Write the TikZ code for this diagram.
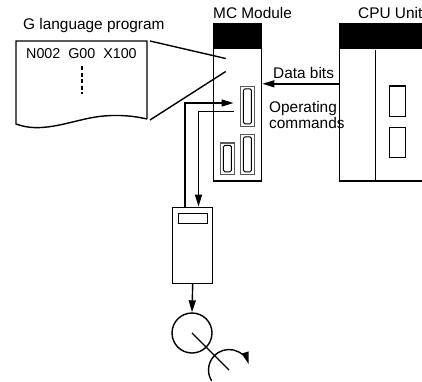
\documentclass[tikz,border=0pt]{standalone}
\usepackage{fontspec}
\setmainfont{Liberation Sans}
\usetikzlibrary{arrows.meta}
\tikzset{
  unitbox/.style={draw, line width=1.4pt, anchor=south west, inner sep=0pt},
  headbox/.style={fill=black, anchor=north, inner sep=0pt, minimum height=26pt},
  slotbox/.style={draw=black!65, line width=1.3pt, anchor=south west, inner sep=0pt},
  slotin/.style={draw, line width=1pt, rounded corners=1.5pt, inner sep=0pt},
  lampbox/.style={draw, line width=1.4pt, anchor=south west, inner sep=0pt},
  wire/.style={line width=1.4pt},
  tip/.style={-{Triangle[length=12pt,width=7pt]}},
  label/.style={font=\fontsize{15.4}{18}\selectfont, anchor=base west, inner sep=0pt}
}
\begin{document}
\begin{tikzpicture}[x=1pt, y=1pt]
  \useasboundingbox (0,0) rectangle (422,381);

  \node[label] (gtitle) at (23,351) {G language program};
  \node[label] (mctitle) at (213,362) {MC Module};
  \node[label] (cputitle) at (358,362) {CPU Unit};

  \coordinate (ptl) at (16,340);
  \coordinate (ptr) at (147,340);
  \coordinate (pbr) at (147,262);
  \coordinate (pbl) at (16,257);
  \draw[wire] (pbr) -- (ptr) -- (ptl) -- (pbl)
    .. controls (40,248) and (65,258) .. (90,263)
    .. controls (110,267) and (130,266) .. (pbr);
  \node[label, font=\fontsize{14.3}{18}\selectfont] (nline) at (26,322) {N002\ \ G00\ \ X100};
  \coordinate (dtop) at (81.5,315);
  \coordinate (dbot) at (81.5,287);
  \draw[line width=2pt, dash pattern=on 4pt off 2.5pt] (dtop) -- (dbot);

  \node[unitbox, minimum width=48pt, minimum height=157.5pt] (mc) at (213,199.5) {};
  \node[headbox, minimum width=48pt] (mchead) at (mc.north) {};

  \node[unitbox, minimum width=100pt, minimum height=157.5pt] (cpu) at (339,199.5) {};
  \node[headbox, minimum width=100pt] (cpuhead) at (cpu.north) {};
  \coordinate (divtop) at (375.7,331);
  \coordinate (divbot) at (375.7,199.5);
  \draw[wire] (divtop) -- (divbot);
  \node[lampbox, minimum width=15.5pt, minimum height=30.5pt] (lampa) at (389,264) {};
  \node[lampbox, minimum width=15.5pt, minimum height=30pt] (lampb) at (389,223) {};

  \coordinate (leadat) at (150,340);
  \coordinate (leadbt) at (150,261);
  \coordinate (leadae) at (225.7,322.5);
  \coordinate (leadbe) at (225.7,309.5);
  \draw[wire] (leadat) -- (leadae);
  \draw[wire] (leadbt) -- (leadbe);

  \node[slotbox, minimum width=13.5pt, minimum height=40pt] (slota) at (240,254) {};
  \node[slotbox, minimum width=13.5pt, minimum height=40pt] (slotb) at (240,206) {};
  \node[slotbox, minimum width=13.5pt, minimum height=31.5pt] (slotc) at (220,206) {};
  \node[slotin, minimum width=8pt, minimum height=35pt] at (slota.center) {};
  \node[slotin, minimum width=8pt, minimum height=35pt] at (slotb.center) {};
  \node[slotin, minimum width=8pt, minimum height=26.5pt] at (slotc.center) {};

  \draw[wire, tip] ([yshift=18.25pt]cpu.west) -- ([yshift=18.25pt]mc.east);
  \node[label] (datatext) at (273,303) {Data bits};
  \node[label] (optext) at (269,269) {Operating};
  \node[label] (comtext) at (269,253) {commands};

  \node[unitbox, minimum width=40pt, minimum height=76pt] (drive) at (172,97) {};
  \node[lampbox, minimum width=29pt, minimum height=10pt] (display) at (178,157) {};

  \coordinate (cmda) at (185,278);
  \coordinate (cmdb) at (198.5,269.5);
  \coordinate (porta) at (233.5,278);
  \coordinate (portb) at (233.5,269.5);
  \draw[wire, tip] (drive.north -| cmda) -- (cmda) -- (porta);
  \draw[wire, tip] (portb) -- (cmdb) -- (drive.north -| cmdb);

  \node[draw, circle, line width=1.4pt, minimum size=40pt, inner sep=0pt] (motor) at (192,48) {};
  \draw[wire, tip] (drive.south) -- (motor.north);

  \coordinate (shaft) at (229,11);
  \draw[wire] (motor.center) -- (shaft);
  \draw[wire, tip] (shaft) ++(212:20.5pt) arc (212:17:20.5pt);
\end{tikzpicture}
\end{document}
